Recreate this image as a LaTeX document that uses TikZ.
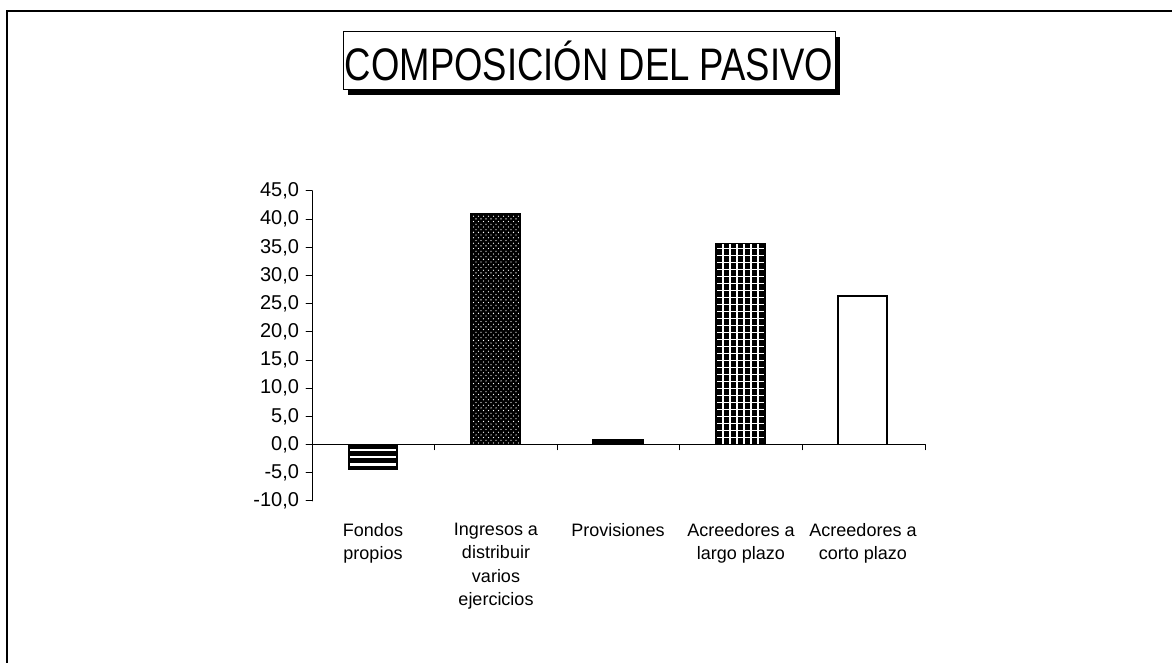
\documentclass[tikz,border=0pt]{standalone}
\usepackage{graphicx}
\usepackage{fontspec}
\setmainfont{Liberation Sans}
\usetikzlibrary{shadows}
\begin{document}
\begin{tikzpicture}[x=1pt,y=1pt,
  axisline/.style={draw=drawColor,line width=1pt,line join=round,line cap=round},
  barbox/.style={draw=drawColor,line width=1.6pt},
  ticklabel/.style={text=drawColor,anchor=east,inner sep=0pt,outer sep=0pt,font=\fontsize{20}{22}\selectfont},
  catlabel/.style={text=drawColor,anchor=north,align=center,inner sep=0pt,outer sep=0pt,font=\fontsize{18}{23.5}\selectfont}]
\definecolor{fillColor}{RGB}{255,255,255}
\definecolor{drawColor}{RGB}{0,0,0}
\path[use as bounding box,fill=fillColor] (0,0) rectangle (1172,663);
\begin{scope}
\path[clip] (0,0) rectangle (1172,663);

\path[draw=drawColor,line width= 2pt] (7,-20) -- (7,652) -- (1200,652);
\end{scope}

\node[draw=drawColor,line width=1pt,fill=fillColor,inner sep=0pt,
  minimum width=492pt,minimum height=58pt,
  drop shadow={shadow xshift=5pt,shadow yshift=-5pt,fill=drawColor,opacity=1}]
  (title) at (589,602) {\scalebox{1}[1.25]{\fontsize{36.5}{40}\selectfont COMPOSICIÓN DEL PASIVO}};

% Fondos propios
\path[fill=drawColor] (349,194.2) rectangle (397,218.4);
\foreach \yy in {213.0,205.7,198.4}
  \path[draw=fillColor,line width= 2.2pt] (349,\yy) -- (397,\yy);
\path[barbox] (349,194.2) rectangle (397,218.4);

% Ingresos a distribuir varios ejercicios
\begin{scope}
\path[clip] (471,218.4) rectangle (520,449.5);
\path[fill=drawColor] (471,218.4) rectangle (520,449.5);
\foreach \i in {0,...,9}
  \foreach \j in {0,...,85}
    \path[fill=fillColor] ({473.5+5*\i+2.5*mod(\j,2)},{220+2.7*\j}) circle (0.65);
\end{scope}
\path[barbox] (471,218.4) rectangle (520,449.5);

% Provisiones
\path[fill=drawColor,barbox] (593,218.4) rectangle (643,222.9);

% Acreedores a largo plazo
\path[fill=drawColor] (716,218.4) rectangle (765,419.6);
\path[draw=fillColor,line width= 1.3pt,shift={(716,218.4)},step=7pt] (0,0) grid (49,201.2);
\path[barbox] (716,218.4) rectangle (765,419.6);

% Acreedores a corto plazo
\path[fill=fillColor,barbox] (838,218.4) rectangle (887,367.2);

% axes
\path[axisline] (312,162.0) -- (312,472.0);
\foreach \v [count=\k] in {-10,-5,...,45}{
  \path[axisline] (306,{218.4+5.636*\v}) -- (312,{218.4+5.636*\v});
  \node[ticklabel] (ylab\k) at (299,{218.4+5.636*\v}) {\v,0};
}
\path[axisline] (312,218.4) -- (925,218.4);
\foreach \xx in {434.6,557.2,679.8,802.4,925.0}
  \path[axisline] (\xx,218.4) -- (\xx,213.4);

\node[catlabel] (catA) at (373,140) {Fondos\\propios};
\node[catlabel] (catB) at (496,140) {Ingresos a\\distribuir\\varios\\ejercicios};
\node[catlabel] (catC) at (618,140) {Provisiones};
\node[catlabel] (catD) at (741,140) {Acreedores a\\largo plazo};
\node[catlabel] (catE) at (863,140) {Acreedores a\\corto plazo};
\end{tikzpicture}
\end{document}
